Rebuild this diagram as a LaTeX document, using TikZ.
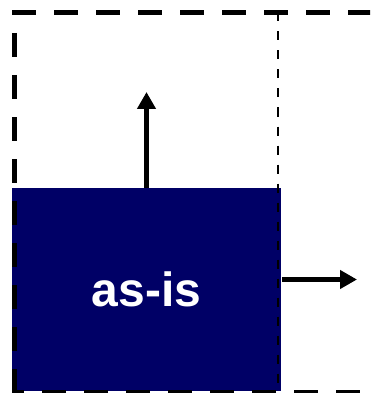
\documentclass[tikz,border=0pt]{standalone}
\usepackage{fontspec}
\setmainfont{Liberation Sans}
\usetikzlibrary{arrows.meta}
\definecolor{asisblue}{RGB}{0,0,102}

\begin{document}
\begin{tikzpicture}[x=1pt,y=-1pt,
    bigdash/.style={line width=5pt,dash pattern=on 24pt off 18pt},
    thindash/.style={line width=2pt,dash pattern=on 9pt off 10pt},
    growarrow/.style={line width=5pt,-{Triangle[length=17pt,width=18pt]}}]
\useasboundingbox (0,0) rectangle (370,393);
\clip (0,0) rectangle (370,393);
\node (asis) [fill=asisblue,text=white,inner sep=0pt,
    minimum width=269pt,minimum height=203pt,
    font=\bfseries\fontsize{48}{48}\selectfont] at (146.5,289.5) {as-is};
\coordinate (up) at (146.5,92);
\coordinate (out) at (357,279.5);
\draw[growarrow] (asis.north) -- (up);
\draw[growarrow] (asis.east |- out) ++(1,0) -- (out);
% frame of the to-be area
\draw[thindash] (278,12.5) -- (278,392);
\draw[bigdash] (12,12.5) -- (400,12.5);
\draw[bigdash,dash phase=21.5pt] (14.5,12.5) -- (14.5,392);
\draw[bigdash,dash phase=12pt] (12,392) -- (400,392);
\end{tikzpicture}
\end{document}
